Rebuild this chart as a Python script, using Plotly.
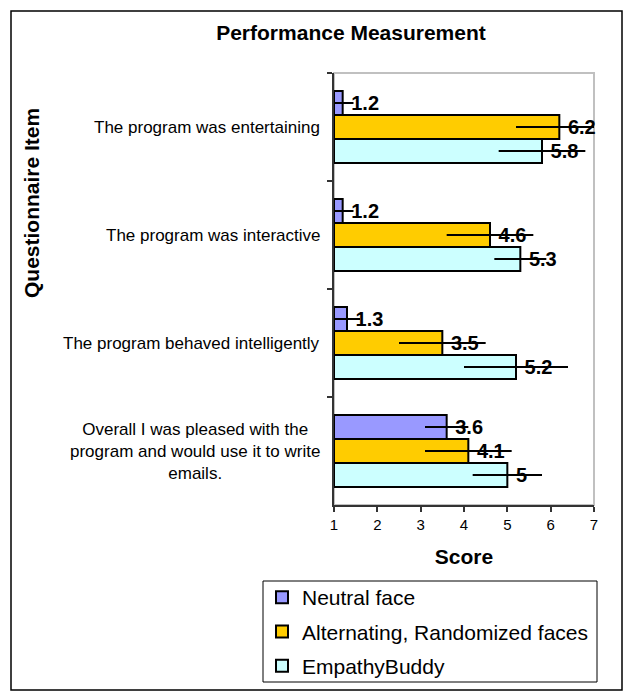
import plotly.graph_objects as go

categories = [
    "The program was entertaining",
    "The program was interactive",
    "The program behaved intelligently",
    "Overall I was pleased with the<br>program and would use it to write<br>emails.",
]
neutral = [1.2, 1.2, 1.3, 3.6]
alternating = [6.2, 4.6, 3.5, 4.1]
empathy = [5.8, 5.3, 5.2, 5.0]
neutral_err = [0.25, 0.25, 0.3, 0.5]
alternating_err = [1.0, 1.0, 1.0, 1.0]
empathy_err = [1.0, 0.6, 1.2, 0.8]
series_names = ["Neutral face", "Alternating, Randomized faces", "EmpathyBuddy"]
colors = ["#9999FF", "#FFCC00", "#CCFFFF"]
x_ticks = [1, 2, 3, 4, 5, 6, 7]
AXIS_MIN = 1

FONT = "Liberation Sans, Arial, sans-serif"

OFF = 8  # page body margin
W, H = 633 - OFF, 700 - OFF
# plot area in page coordinates
L_P, R_P, T_P, B_P = 334, 594, 73, 505
L, R, T, B = L_P - OFF, R_P - OFF, T_P - OFF, B_P - OFF
PW, PH = R - L, B - T


def px(x_page):
    return (x_page - OFF - L) / PW


def py(y_page):
    return (B - (y_page - OFF)) / PH


fig = go.Figure()
for i, (name, vals, errs, col) in enumerate(
    zip(series_names, [neutral, alternating, empathy],
        [neutral_err, alternating_err, empathy_err], colors)):
    fig.add_trace(go.Bar(
        name=name,
        y=categories,
        x=[v - AXIS_MIN for v in vals],
        base=AXIS_MIN,
        orientation="h",
        marker=dict(color=col, line=dict(color="black", width=2)),
        text=[f"{v:g}" for v in vals],
        texttemplate="\u00a0%{text}",
        textposition="outside",
        constraintext="none",
        cliponaxis=False,
        textfont=dict(family=FONT, size=20, color="black", weight="bold"),
        error_x=dict(type="data", array=errs, symmetric=True,
                     color="black", thickness=2, width=0),
        legendgroup=f"g{i}",
    ))

annotations = []
for c in categories:
    annotations.append(dict(
        x=px(322), xref="paper", y=c, yref="y", text=c,
        xanchor="right", yanchor="middle", align="center", showarrow=False,
        font=dict(family=FONT, size=17, color="black"),
    ))
annotations.append(dict(
    x=px(31), xref="paper", y=py(203), yref="paper", text="<b>Questionnaire Item</b>",
    textangle=-90, showarrow=False, xanchor="center", yanchor="middle",
    font=dict(family=FONT, size=21, color="black"),
))

shapes = [
    dict(type="rect", xref="paper", yref="paper", x0=0, x1=1, y0=0, y1=1,
         line=dict(color="#c0c0c0", width=2), layer="below"),
    dict(type="rect", xref="paper", yref="paper",
         x0=px(11), x1=px(622), y0=py(690), y1=py(11),
         line=dict(color="black", width=1.5), layer="below"),
    # legend frame
    dict(type="rect", xref="paper", yref="paper",
         x0=px(263), x1=px(597), y0=py(682), y1=py(581),
         line=dict(color="black", width=1), layer="below"),
]

fig.update_layout(
    width=W, height=H,
    margin=dict(l=L, r=W - R, t=T, b=H - B, pad=0),
    paper_bgcolor="white", plot_bgcolor="white",
    barmode="group", bargap=0.333, bargroupgap=0,
    font=dict(family=FONT, color="black"),
    title=dict(text="<b>Performance Measurement</b>", x=(351 - OFF) / W, xref="container",
               xanchor="center", y=1 - (33 - OFF) / H, yanchor="middle",
               font=dict(family=FONT, size=21, color="black")),
    xaxis=dict(range=[1, 7], tickvals=x_ticks, ticktext=[str(t) for t in x_ticks],
               showgrid=False, zeroline=False, showline=True, linecolor="#333333",
               linewidth=2, ticks="outside", ticklen=5, tickwidth=1.5, tickcolor="#333333",
               tickfont=dict(family=FONT, size=15, color="black"),
               title=dict(text="<b>Score</b>", standoff=17,
                          font=dict(family=FONT, size=21, color="black"))),
    yaxis=dict(autorange="reversed", showgrid=False, zeroline=False, showline=True,
               linecolor="#333333", linewidth=2, ticks="outside", ticklen=5,
               tickwidth=1.5, tickcolor="#333333", tickson="boundaries",
               showticklabels=False),
    legend=dict(x=px(262), y=py(577), xanchor="left", yanchor="top",
                borderwidth=0, bgcolor="rgba(0,0,0,0)",
                font=dict(family=FONT, size=21, color="black"),
                tracegroupgap=4, traceorder="grouped"),
    annotations=annotations,
    shapes=shapes,
    showlegend=True,
)

fig.write_html("out.html")
